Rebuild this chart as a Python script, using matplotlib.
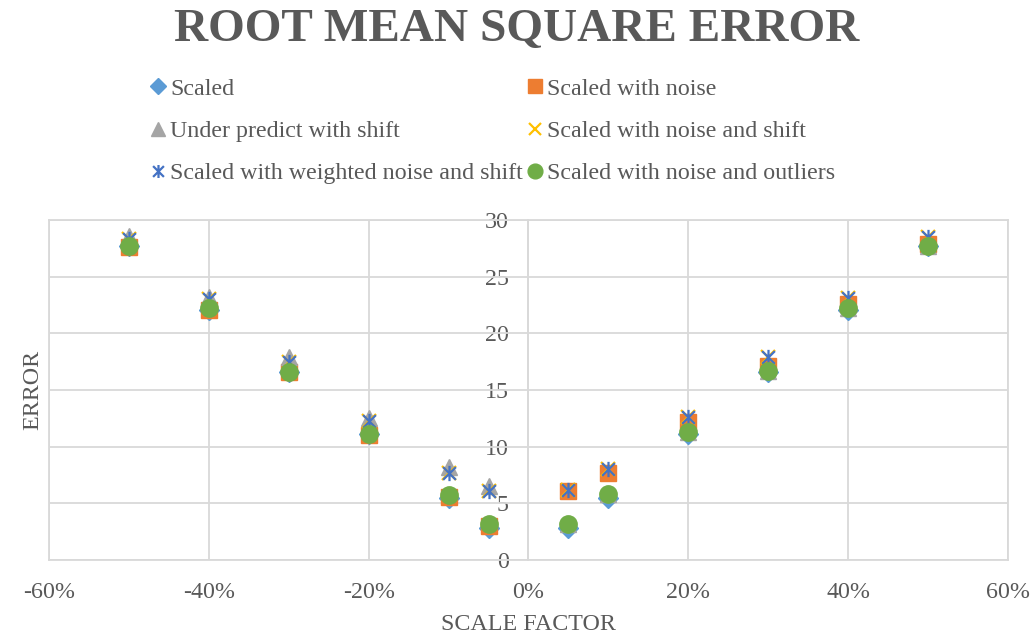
import matplotlib.pyplot as plt
from matplotlib.path import Path
from matplotlib.ticker import PercentFormatter

# scale factors and RMSE values
scale = [-0.5, -0.4, -0.3, -0.2, -0.1, -0.05, 0.05, 0.1, 0.2, 0.3, 0.4, 0.5]
scaled = [27.7, 22.1, 16.6, 11.1, 5.5, 2.8, 2.8, 5.5, 11.1, 16.6, 22.1, 27.7]
scaled_noise = [27.6, 22.1, 16.6, 11.0, 5.6, 3.0, 6.1, 7.7, 12.2, 17.1, 22.6, 27.9]
under_shift = [28.6, 23.2, 17.9, 12.5, 8.2, 6.5, 3.2, 5.8, 11.3, 16.7, 22.2, 27.7]
noise_shift = [28.3, 23.0, 17.5, 12.3, 7.7, 6.1, 6.2, 8.0, 12.6, 17.9, 23.1, 28.5]
weighted_shift = [28.3, 23.0, 17.5, 12.3, 7.7, 6.1, 6.2, 8.0, 12.6, 17.9, 23.1, 28.5]
noise_outliers = [27.7, 22.2, 16.6, 11.1, 5.7, 3.2, 3.2, 5.8, 11.3, 16.7, 22.2, 27.7]

labels = ['Scaled', 'Scaled with noise', 'Under predict with shift',
          'Scaled with noise and shift', 'Scaled with weighted noise and shift',
          'Scaled with noise and outliers']

text_col = '#595959'
grid_col = '#d9d9d9'
plt.rcParams['font.family'] = ['Liberation Serif', 'DejaVu Serif']
plt.rcParams['axes.unicode_minus'] = False

# Excel-like star: an X with a vertical bar
star = Path([(-1, -1), (1, 1), (-1, 1), (1, -1), (0, -1.2), (0, 1.2)],
            [Path.MOVETO, Path.LINETO, Path.MOVETO, Path.LINETO, Path.MOVETO, Path.LINETO])

fig = plt.figure(figsize=(10.33, 6.36), dpi=100)
ax = fig.add_axes([0.0474, 0.1195, 0.9284, 0.5346])

h = []
h.append(ax.plot(scale, scaled, 'D', ms=10, color='#5B9BD5', mec='#5B9BD5', ls='none')[0])
h.append(ax.plot(scale, scaled_noise, 's', ms=12, color='#ED7D31', mec='#ED7D31', ls='none')[0])
h.append(ax.plot(scale, under_shift, '^', ms=12, color='#A5A5A5', mec='#A5A5A5', ls='none')[0])
h.append(ax.plot(scale, noise_shift, 'x', ms=10, mew=1.6, color='#FFC000', ls='none')[0])
h.append(ax.plot(scale, weighted_shift, marker=star, ms=11, mew=1.6, color='#4472C4', ls='none')[0])
h.append(ax.plot(scale, noise_outliers, 'o', ms=12.5, color='#70AD47', mec='#70AD47', ls='none')[0])

ax.set_xlim(-0.6, 0.6)
ax.set_ylim(0, 30)
ax.set_xticks([-0.6, -0.4, -0.2, 0, 0.2, 0.4, 0.6])
ax.set_yticks([0, 5, 10, 15, 20, 25, 30])
ax.xaxis.set_major_formatter(PercentFormatter(1.0, decimals=0))
ax.grid(True, color=grid_col, lw=1.3)
ax.set_axisbelow(True)
for s in ax.spines.values():
    s.set_color(grid_col)
    s.set_linewidth(1.3)
ax.tick_params(axis='x', length=0, pad=16, labelsize=17.3, labelcolor=text_col)
ax.tick_params(axis='y', left=False, labelleft=False)

# y axis crosses at 0%
sec = ax.secondary_yaxis(0.5)
sec.set_alignment('left')
sec.set_yticks([0, 5, 10, 15, 20, 25, 30])
for s in sec.spines.values():
    s.set_color(grid_col)
    s.set_linewidth(1.3)
sec.tick_params(length=0, pad=14, labelsize=17.3, labelcolor=text_col)

ax.set_xlabel('SCALE FACTOR', fontsize=17.3, color=text_col, labelpad=8)
ax.set_ylabel('ERROR', fontsize=17.3, color=text_col, labelpad=4)

fig.text(0.5, 0.9355, 'ROOT MEAN SQUARE ERROR', ha='center', va='baseline',
         fontsize=34, fontweight='bold', color=text_col)

order = [0, 2, 4, 1, 3, 5]
fig.legend([h[i] for i in order], [labels[i] for i in order], ncol=2,
           loc='center', bbox_to_anchor=(0.476, 0.794), frameon=False,
           fontsize=17.3, labelcolor=text_col, markerscale=0.85,
           handlelength=0.8, handletextpad=0.1, columnspacing=0.1,
           labelspacing=0.85)

fig.savefig('out.png', dpi=100)
